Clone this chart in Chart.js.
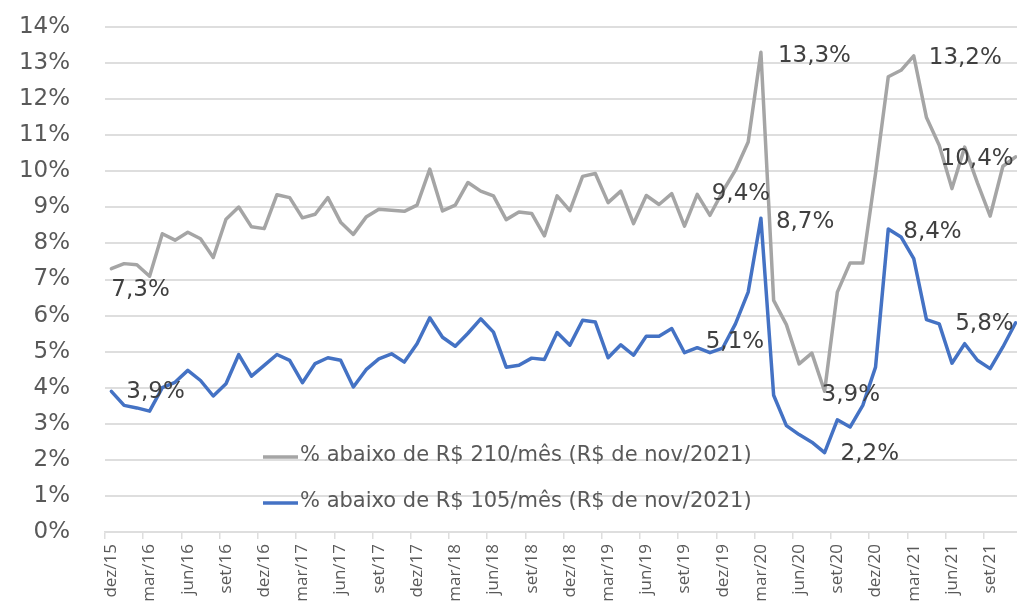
<!DOCTYPE html>
<html lang="pt-BR">
<head>
<meta charset="utf-8">
<title>Pobreza - % abaixo da linha</title>
<script src="https://cdn.jsdelivr.net/npm/chart.js@4.4.1/dist/chart.umd.min.js"></script>
<style>
    html, body { margin: 0; padding: 0; background: #fff; overflow: hidden; }
    #wrap { width: 1022px; height: 601px; }
</style>
</head>
<body>
<div id="wrap"><canvas id="chart" width="1022" height="601"></canvas></div>
<script>
// meses (dez/15 .. nov/21)
const months = [
    'dez/15', 'jan/16', 'fev/16', 'mar/16', 'abr/16', 'mai/16', 'jun/16', 'jul/16', 'ago/16', 'set/16', 'out/16', 'nov/16',
    'dez/16', 'jan/17', 'fev/17', 'mar/17', 'abr/17', 'mai/17', 'jun/17', 'jul/17', 'ago/17', 'set/17', 'out/17', 'nov/17',
    'dez/17', 'jan/18', 'fev/18', 'mar/18', 'abr/18', 'mai/18', 'jun/18', 'jul/18', 'ago/18', 'set/18', 'out/18', 'nov/18',
    'dez/18', 'jan/19', 'fev/19', 'mar/19', 'abr/19', 'mai/19', 'jun/19', 'jul/19', 'ago/19', 'set/19', 'out/19', 'nov/19',
    'dez/19', 'jan/20', 'fev/20', 'mar/20', 'abr/20', 'mai/20', 'jun/20', 'jul/20', 'ago/20', 'set/20', 'out/20', 'nov/20',
    'dez/20', 'jan/21', 'fev/21', 'mar/21', 'abr/21', 'mai/21', 'jun/21', 'jul/21', 'ago/21', 'set/21', 'out/21', 'nov/21'
];

// % abaixo de R$ 210/mês
const below210 = [
    7.3, 7.44, 7.41, 7.09, 8.27, 8.09, 8.31, 8.13, 7.61, 8.67, 9.01, 8.46,
    8.41, 9.35, 9.27, 8.71, 8.81, 9.27, 8.59, 8.25, 8.73, 8.95, 8.92, 8.89,
    9.06, 10.06, 8.90, 9.06, 9.69, 9.45, 9.32, 8.66, 8.87, 8.83, 8.21, 9.32,
    8.91, 9.86, 9.94, 9.13, 9.45, 8.55, 9.33, 9.08, 9.38, 8.48, 9.36, 8.78,
    9.44, 10.03, 10.81, 13.3, 6.42, 5.75, 4.66, 4.96, 3.9, 6.65, 7.46, 7.46,
    9.94, 12.62, 12.80, 13.2, 11.49, 10.72, 9.52, 10.67, 9.68, 8.76, 10.14, 10.4
];

// % abaixo de R$ 105/mês
const below105 = [
    3.9, 3.51, 3.44, 3.35, 4.0, 4.15, 4.48, 4.20, 3.77, 4.11, 4.92, 4.32,
    4.62, 4.92, 4.76, 4.14, 4.67, 4.83, 4.76, 4.02, 4.50, 4.80, 4.94, 4.71,
    5.22, 5.94, 5.40, 5.15, 5.51, 5.91, 5.54, 4.57, 4.62, 4.82, 4.78, 5.53,
    5.18, 5.87, 5.82, 4.83, 5.19, 4.90, 5.43, 5.43, 5.64, 4.97, 5.11, 4.97,
    5.1, 5.77, 6.65, 8.7, 3.79, 2.95, 2.70, 2.49, 2.2, 3.11, 2.91, 3.51,
    4.57, 8.4, 8.18, 7.58, 5.89, 5.77, 4.68, 5.22, 4.76, 4.53, 5.13, 5.8
];

const yTicks = [0, 1, 2, 3, 4, 5, 6, 7, 8, 9, 10, 11, 12, 13, 14];

const seriesNames = [
    '% abaixo de R$ 210/mês (R$ de nov/2021)',
    '% abaixo de R$ 105/mês (R$ de nov/2021)'
];

// rótulos de destaque (série, índice, texto)
const highlights = [
    { s: 0, i: 0,  text: '7,3%' },
    { s: 0, i: 48, text: '9,4%' },
    { s: 0, i: 51, text: '13,3%' },
    { s: 0, i: 56, text: '3,9%' },
    { s: 0, i: 63, text: '13,2%' },
    { s: 0, i: 71, text: '10,4%' },
    { s: 1, i: 0,  text: '3,9%' },
    { s: 1, i: 48, text: '5,1%' },
    { s: 1, i: 51, text: '8,7%' },
    { s: 1, i: 56, text: '2,2%' },
    { s: 1, i: 61, text: '8,4%' },
    { s: 1, i: 71, text: '5,8%' }
];

// deslocamento de cada rótulo em relação ao ponto
const highlightPos = [
    { dx: 0,   dy: 21, align: 'left' },
    { dx: -11, dy: 3,  align: 'left' },
    { dx: 17,  dy: 4,  align: 'left' },
    { dx: -3,  dy: 4,  align: 'left' },
    { dx: 15,  dy: 2,  align: 'left' },
    { dx: -2,  dy: 2,  align: 'right' },
    { dx: 15,  dy: 1,  align: 'left' },
    { dx: -17, dy: -6, align: 'left' },
    { dx: 15,  dy: 4,  align: 'left' },
    { dx: 16,  dy: 1,  align: 'left' },
    { dx: 15,  dy: 3,  align: 'left' },
    { dx: -2,  dy: 1,  align: 'right' }
];

const GRAY = '#a5a5a5';
const BLUE = '#4472c4';
const GRID = '#dedede';
const TEXT = '#595959';

const labelsPlugin = {
    id: 'highlightLabels',
    afterDatasetsDraw(chart) {
        const ctx = chart.ctx;
        const order = [GRAY, BLUE];
        ctx.save();

        // rótulos dos pontos
        ctx.font = '23px "DejaVu Sans", Verdana, sans-serif';
        ctx.fillStyle = '#404040';
        ctx.textBaseline = 'middle';
        highlights.forEach((h, k) => {
            const pt = chart.getDatasetMeta(h.s).data[h.i];
            const pos = highlightPos[k];
            ctx.textAlign = pos.align;
            ctx.fillText(h.text, pt.x + pos.dx, pt.y + pos.dy);
        });

        // legenda dentro da área do gráfico
        const area = chart.chartArea;
        const x0 = area.left + 158;
        const rows = [456, 502];
        ctx.font = '21px "DejaVu Sans", Verdana, sans-serif';
        ctx.textAlign = 'left';
        chart.data.datasets.forEach((ds, k) => {
            ctx.strokeStyle = order[k];
            ctx.lineWidth = 3.5;
            ctx.beginPath();
            ctx.moveTo(x0, rows[k] + 1);
            ctx.lineTo(x0 + 35, rows[k] + 1);
            ctx.stroke();
            ctx.fillStyle = TEXT;
            ctx.fillText(ds.label, x0 + 37, rows[k]);
        });
        ctx.restore();
    }
};

const chart = new Chart(document.getElementById('chart'), {
    type: 'line',
    data: {
        labels: months,
        datasets: [
            {
                label: seriesNames[0],
                data: below210,
                borderColor: GRAY,
                borderWidth: 3.5,
                order: 2
            },
            {
                label: seriesNames[1],
                data: below105,
                borderColor: BLUE,
                borderWidth: 3.5,
                order: 1
            }
        ]
    },
    options: {
        responsive: false,
        devicePixelRatio: 1,
        animation: false,
        layout: { padding: { top: 27, left: 0, right: 0, bottom: 0 } },
        elements: {
            point: { radius: 0, hoverRadius: 0 },
            line: { tension: 0, borderJoinStyle: 'round', borderCapStyle: 'round' }
        },
        plugins: {
            legend: { display: false },
            tooltip: { enabled: false }
        },
        scales: {
            x: {
                type: 'category',
                offset: true,
                grid: {
                    offset: true,
                    drawOnChartArea: false,
                    drawTicks: true,
                    tickLength: 7,
                    lineWidth: 1.5,
                    color: (c) => (c.index % 3 === 0 ? GRID : 'rgba(0,0,0,0)')
                },
                border: { display: true, color: GRID, width: 1.5 },
                ticks: {
                    autoSkip: false,
                    maxRotation: 90,
                    minRotation: 90,
                    padding: 5,
                    color: TEXT,
                    font: { family: '"Open Sans", "Noto Sans", sans-serif', size: 17 },
                    callback: function (value, index) {
                        return index % 3 === 0 ? this.getLabelForValue(value) : '';
                    }
                },
                afterFit: (s) => {
                    s.height = 69;
                    s.paddingLeft = 0;
                    s.paddingRight = 0;
                }
            },
            y: {
                min: yTicks[0],
                max: yTicks[yTicks.length - 1],
                afterBuildTicks: (s) => {
                    s.ticks = yTicks.map(v => ({ value: v }));
                },
                grid: { color: GRID, lineWidth: 2, drawTicks: false },
                border: { display: false },
                ticks: {
                    padding: 35,
                    color: TEXT,
                    font: { family: '"DejaVu Sans", Verdana, sans-serif', size: 23 },
                    callback: (v) => v + '%'
                },
                afterFit: (s) => {
                    s.width = 105;
                    s.paddingTop = 0;
                    s.paddingBottom = 0;
                }
            }
        }
    },
    plugins: [labelsPlugin]
});

console.log('[CHART] area:', chart.chartArea);
</script>
</body>
</html>
